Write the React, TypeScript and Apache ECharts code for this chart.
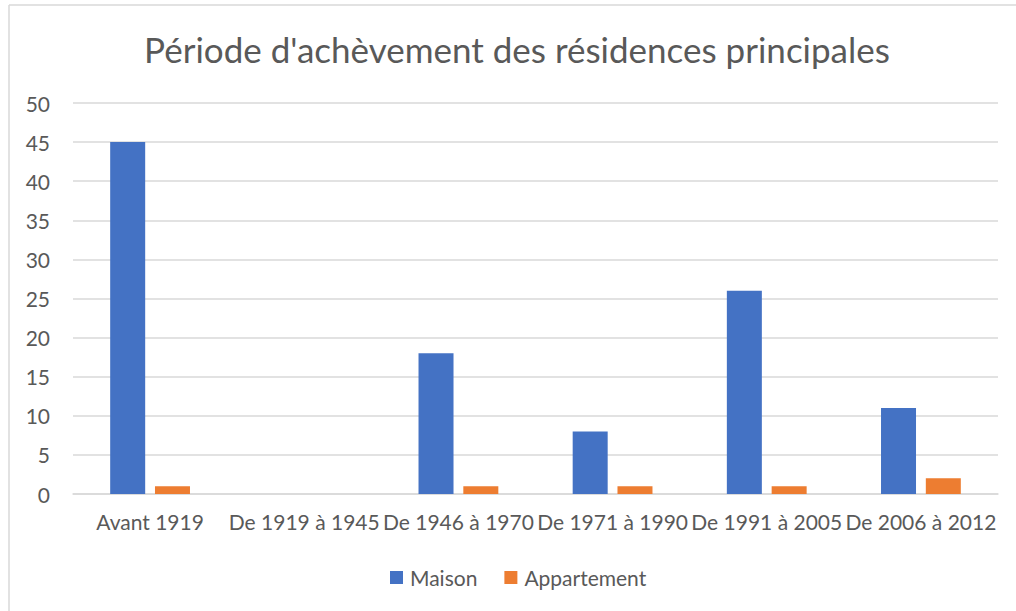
import React, { useEffect, useRef } from "react";
import * as echarts from "echarts";

const categories = [
  "Avant 1919",
  "De 1919 à 1945",
  "De 1946 à 1970",
  "De 1971 à 1990",
  "De 1991 à 2005",
  "De 2006 à 2012",
];
const maison = [45, 0, 18, 8, 26, 11];
const appartement = [1, 0, 1, 1, 1, 2];
const seriesNames = ["Maison", "Appartement"];
const title = "Période d'achèvement des résidences principales";

const FONT = "Lato, 'Noto Sans', sans-serif";
const TEXT = "#595959";

export default function App() {
  const ref = useRef<HTMLDivElement>(null);
  useEffect(() => {
    if (!ref.current) return;
    const chart = echarts.init(ref.current, undefined, { renderer: "svg" });
    chart.setOption({
      animation: false,
      backgroundColor: "#ffffff",
      textStyle: { fontFamily: FONT },
      title: {
        text: title,
        left: 512,
        textAlign: "center",
        top: 26,
        textStyle: { fontFamily: FONT, fontSize: 35, fontWeight: "normal", color: TEXT },
      },
      graphic: [
        { type: "line", shape: { x1: 9, y1: 5, x2: 1016, y2: 5 }, style: { stroke: "#d9d9d9", lineWidth: 1.5 } },
        { type: "line", shape: { x1: 9, y1: 5, x2: 9, y2: 611 }, style: { stroke: "#d9d9d9", lineWidth: 1.5 } },
      ],
      legend: {
        data: seriesNames,
        left: 385,
        top: 562,
        itemWidth: 13,
        itemHeight: 13,
        itemGap: 27,
        icon: "rect",
        textStyle: { fontFamily: FONT, fontSize: 21, color: TEXT, padding: [0, 0, 0, 2] },
      },
      grid: { left: 73, right: 18, top: 103, bottom: 117, containLabel: false },
      xAxis: {
        type: "category",
        data: categories,
        axisLine: { lineStyle: { color: "#d9d9d9", width: 1.5 } },
        axisTick: { show: false },
        axisLabel: { interval: 0, fontFamily: FONT, fontSize: 21, color: TEXT, margin: 17 },
      },
      yAxis: {
        type: "value",
        min: 0,
        max: 50,
        interval: 5,
        axisLine: { show: false },
        axisTick: { show: false },
        splitLine: { lineStyle: { color: "#d9d9d9", width: 1.5 } },
        axisLabel: { fontFamily: FONT, fontSize: 21, color: TEXT, margin: 23 },
      },
      series: [
        {
          name: seriesNames[0],
          type: "bar",
          data: maison,
          barWidth: 35,
          barGap: "28%",
          itemStyle: { color: "#4472C4" },
        },
        {
          name: seriesNames[1],
          type: "bar",
          data: appartement,
          barWidth: 35,
          barGap: "28%",
          itemStyle: { color: "#ED7D31" },
        },
      ],
    });
    return () => chart.dispose();
  }, []);
  return (
    <div
      ref={ref}
      style={{ position: "fixed", left: 0, top: 0, width: 1016, height: 611 }}
    />
  );
}
